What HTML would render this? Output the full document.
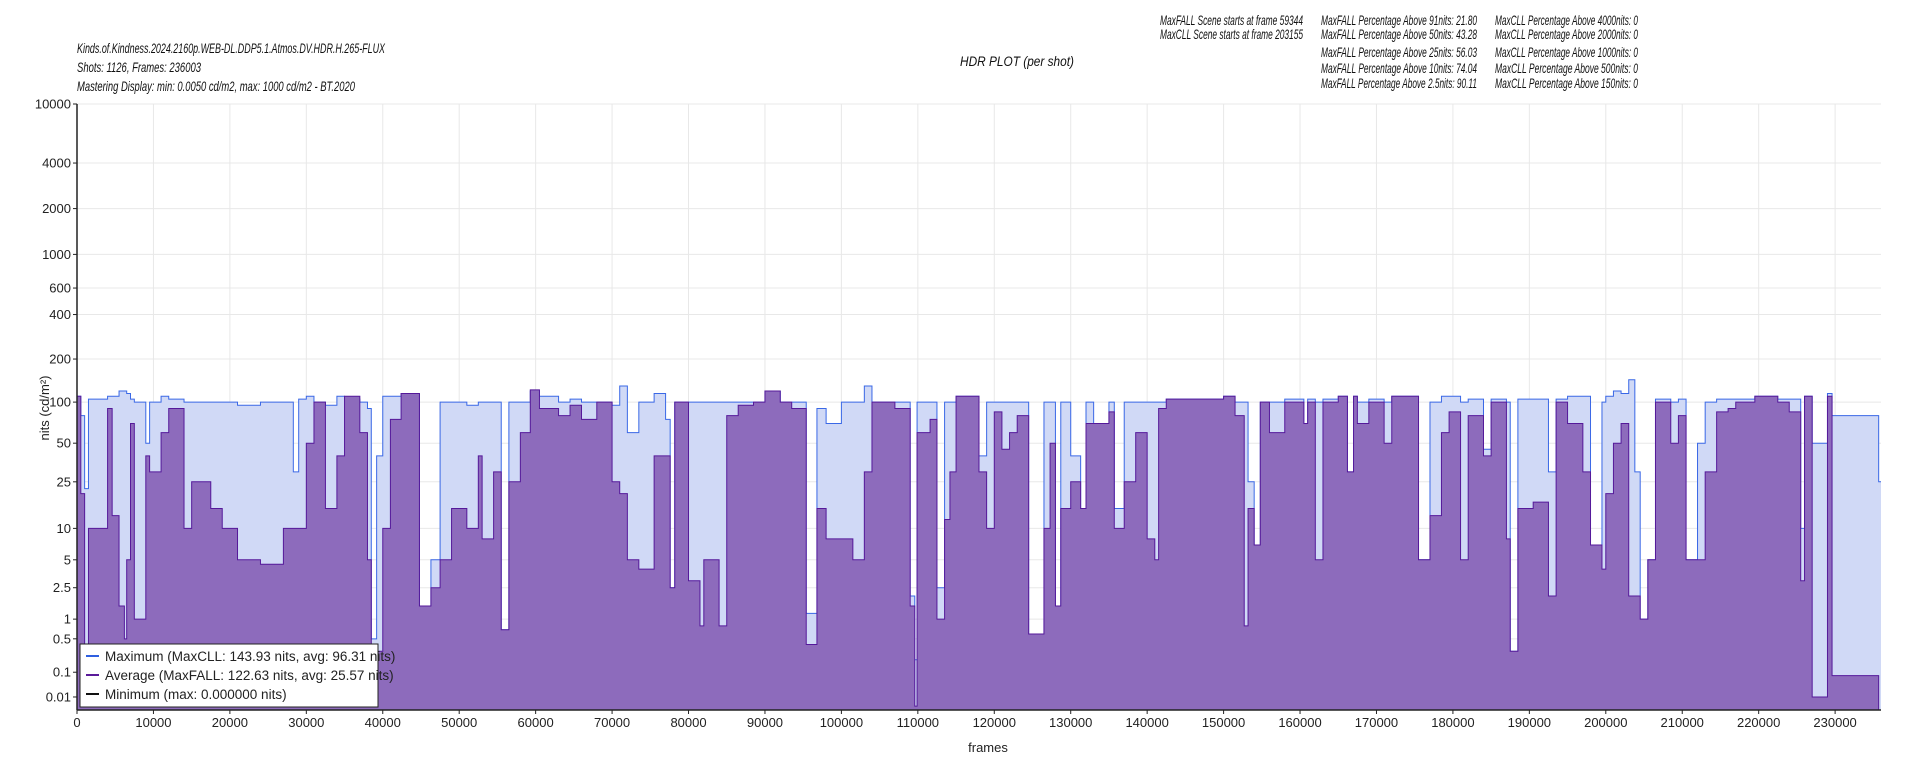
<!DOCTYPE html>
<html><head><meta charset="utf-8">
<style>
html,body{margin:0;padding:0;background:#fff;width:1920px;height:768px;overflow:hidden}
svg text{font-family:"Liberation Sans",sans-serif}
.hd{font-style:italic;font-size:14px;fill:#111}
.tk{font-size:13px;fill:#222}
</style></head>
<body>
<svg id="chart" width="1920" height="768" viewBox="0 0 1920 768" xmlns="http://www.w3.org/2000/svg">
<g>
<text class="hd" x="77" y="53" textLength="308" lengthAdjust="spacingAndGlyphs">Kinds.of.Kindness.2024.2160p.WEB-DL.DDP5.1.Atmos.DV.HDR.H.265-FLUX</text>
<text class="hd" x="77" y="72" textLength="124" lengthAdjust="spacingAndGlyphs">Shots:  1126, Frames: 236003</text>
<text class="hd" x="77" y="91" textLength="278" lengthAdjust="spacingAndGlyphs">Mastering Display: min: 0.0050 cd/m2, max: 1000 cd/m2 - BT.2020</text>
</g>
<text class="hd" x="960" y="66" textLength="114" lengthAdjust="spacingAndGlyphs">HDR PLOT (per shot)</text>
<g>
<text class="hd" x="1160" y="25" textLength="143" lengthAdjust="spacingAndGlyphs">MaxFALL Scene starts at frame 59344</text>
<text class="hd" x="1160" y="39" textLength="143" lengthAdjust="spacingAndGlyphs">MaxCLL Scene starts at frame 203155</text>
<text class="hd" x="1321" y="25" textLength="156" lengthAdjust="spacingAndGlyphs">MaxFALL Percentage Above  91nits: 21.80</text>
<text class="hd" x="1321" y="39" textLength="156" lengthAdjust="spacingAndGlyphs">MaxFALL Percentage Above  50nits: 43.28</text>
<text class="hd" x="1321" y="57" textLength="156" lengthAdjust="spacingAndGlyphs">MaxFALL Percentage Above  25nits: 56.03</text>
<text class="hd" x="1321" y="73" textLength="156" lengthAdjust="spacingAndGlyphs">MaxFALL Percentage Above  10nits: 74.04</text>
<text class="hd" x="1321" y="88" textLength="156" lengthAdjust="spacingAndGlyphs">MaxFALL Percentage Above 2.5nits: 90.11</text>
<text class="hd" x="1495" y="25" textLength="143" lengthAdjust="spacingAndGlyphs">MaxCLL Percentage Above 4000nits: 0</text>
<text class="hd" x="1495" y="39" textLength="143" lengthAdjust="spacingAndGlyphs">MaxCLL Percentage Above 2000nits: 0</text>
<text class="hd" x="1495" y="57" textLength="143" lengthAdjust="spacingAndGlyphs">MaxCLL Percentage Above 1000nits: 0</text>
<text class="hd" x="1495" y="73" textLength="143" lengthAdjust="spacingAndGlyphs">MaxCLL Percentage Above   500nits: 0</text>
<text class="hd" x="1495" y="88" textLength="143" lengthAdjust="spacingAndGlyphs">MaxCLL Percentage Above   150nits: 0</text>
</g>
<g id="grid"></g>
<g id="series"></g>
<g id="axes"></g>
<text class="tk" x="988" y="752" text-anchor="middle">frames</text>
<text class="tk" transform="translate(49,408) rotate(-90)" text-anchor="middle">nits (cd/m²)</text>
<g>
<rect x="80" y="644" width="298" height="63" fill="#fff" stroke="#222" stroke-width="1"/>
<line x1="86" y1="656" x2="99" y2="656" stroke="#2f5fe0" stroke-width="2"/>
<text x="105" y="661" font-size="13.5" fill="#222">Maximum (MaxCLL: 143.93 nits, avg: 96.31 nits)</text>
<line x1="86" y1="675" x2="99" y2="675" stroke="#5a1a9a" stroke-width="2"/>
<text x="105" y="680" font-size="13.5" fill="#222">Average (MaxFALL: 122.63 nits, avg: 25.57 nits)</text>
<line x1="86" y1="694" x2="99" y2="694" stroke="#111" stroke-width="2"/>
<text x="105" y="699" font-size="13.5" fill="#222">Minimum (max: 0.000000 nits)</text>
</g>
</svg>
<script>
const shotStart=[0,500,1000,1500,4000,4600,5500,6200,6500,7000,7500,9000,9500,11000,12000,14000,15000,17500,19000,21000,24000,27000,28300,29000,30000,31000,32500,34000,35000,37000,38000,38500,39200,40000,41000,42400,44800,46300,47500,49000,51000,52500,53000,54500,55500,56500,58000,59300,60500,63000,64500,66000,68000,70000,71000,72000,73500,75500,77000,77600,78200,80000,81500,82000,84000,85000,86500,88500,90000,92000,93500,95400,96800,98000,100000,101500,103000,104000,107000,109000,109600,109900,111600,112500,113500,114200,115000,118000,119000,120000,121000,122000,123000,124500,126500,127300,128000,128700,130000,131300,132000,133000,135000,135700,137000,138500,140000,141000,141500,142500,150000,151500,152700,153200,154000,154800,156000,158000,160500,161000,162000,163000,165000,166200,167000,167500,169000,171000,172000,175500,177000,178500,179500,181000,182000,184000,185000,187000,187500,188500,190500,192500,193500,195000,197000,198000,199500,200000,201000,202000,203000,203800,204500,205500,206500,208500,209500,210500,212000,213000,214500,216000,217000,219500,222500,224000,225500,226000,227000,229000,229600,235700];
const maxVals=[110,80,22,105,110,110,120,120,115,105,100,50,100,110,105,100,100,100,100,95,100,100,30,105,110,100,95,110,105,100,90,0.5,40,110,110,115,1.5,5,100,100,95,100,100,100,0.7,100,100,120,110,100,105,100,100,95,130,60,100,115,75,2.5,100,100,100,100,100,100,100,100,120,100,100,1.2,90,70,100,100,130,100,100,2,0.2,100,100,2.5,100,100,110,40,100,100,100,100,100,0.6,100,100,1.5,100,40,15,100,70,100,15,100,100,100,100,100,105,110,100,100,25,7,100,100,105,70,105,100,105,110,30,110,100,105,100,110,5,100,110,110,100,105,45,105,100,0.3,105,105,30,105,110,110,7,100,110,120,115,143.9,30,1,5,105,100,105,5,50,100,105,105,105,110,105,105,10,110,50,115,80,25];
const avgVals=[110,20,0.3,10,90,13,1.5,0.5,5,70,1,40,30,60,90,10,25,15,10,5,4.5,10,10,10,50,100,15,40,110,60,5,0.4,0.3,10,75,115,1.5,2.5,5,15,10,40,8,30,0.7,25,60,122,90,80,95,75,100,25,20,5,4,40,40,2.5,100,3,0.8,5,0.8,80,95,100,120,100,90,0.4,15,8,8,5,30,100,90,1.5,0.001,60,75,1,12,30,110,30,10,85,45,60,80,0.6,10,50,1.5,15,25,15,70,70,85,10,25,60,8,5,90,105,110,80,0.8,15,7,100,60,100,70,100,5,100,110,30,110,70,100,50,110,5,13,60,85,5,80,40,100,8,0.3,15,17,2,100,70,30,7,4,20,50,70,2,2,1,5,100,50,80,5,5,30,85,90,100,110,100,85,3,110,0.01,110,0.08,0];
const totalFrames=236003;
const xTicks=[0,10000,20000,30000,40000,50000,60000,70000,80000,90000,100000,110000,120000,130000,140000,150000,160000,170000,180000,190000,200000,210000,220000,230000];
const yTicks=[0.01,0.1,0.5,1,2.5,5,10,25,50,100,200,400,600,1000,2000,4000,10000];
const yTickLabels=["0.01","0.1","0.5","1","2.5","5","10","25","50","100","200","400","600","1000","2000","4000","10000"];

(function(){
const NS="http://www.w3.org/2000/svg";
const X0=77,X1=1881,Y0=710,Y1=104;
function pq(n){const m1=0.1593017578125,m2=78.84375,c1=0.8359375,c2=18.8515625,c3=18.6875;const y=Math.pow(Math.max(n,0)/10000,m1);return Math.pow((c1+c2*y)/(1+c3*y),m2);}
function xs(f){return X0+(f/totalFrames)*(X1-X0);}
function ys(n){return Y0-pq(n)*(Y0-Y1);}
function mk(tag,attrs,parent){const e=document.createElementNS(NS,tag);for(const k in attrs)e.setAttribute(k,attrs[k]);parent.appendChild(e);return e;}
const grid=document.getElementById('grid'),axes=document.getElementById('axes'),series=document.getElementById('series');
xTicks.forEach((t)=>{
 const l=mk('line',{x1:xs(t),x2:xs(t),y1:Y1,y2:Y0,stroke:'#e8e8e8','stroke-width':1},grid);
 
 
 const tk=mk('line',{x1:xs(t),x2:xs(t),y1:Y0,y2:Y0+4,stroke:'#222'},axes);
 
 
 const tx=mk('text',{x:xs(t),y:Y0+17,'text-anchor':'middle','class':'tk'},axes);
 tx.textContent=String(t);
 
 
});
yTicks.forEach((t,i)=>{
 const l=mk('line',{x1:X0,x2:X1,y1:ys(t),y2:ys(t),stroke:'#e8e8e8','stroke-width':1},grid);
 
 
 const tk=mk('line',{x1:X0-4,x2:X0,y1:ys(t),y2:ys(t),stroke:'#222'},axes);
 
 
 const tx=mk('text',{x:X0-6,y:ys(t)+4.5,'text-anchor':'end','class':'tk'},axes);
 tx.textContent=yTickLabels[i];
 
 
});
function stepPath(vals){
 let d='';
 const n=Math.min(shotStart.length,vals.length);
 for(let i=0;i<n;i++){
  const xa=xs(shotStart[i]),xb=xs(i+1<shotStart.length?shotStart[i+1]:totalFrames),y=ys(vals[i]);
  d+=(i===0?'M':'L')+xa.toFixed(2)+','+y.toFixed(2)+'L'+xb.toFixed(2)+','+y.toFixed(2);
 }
 return d;
}
const dMax=stepPath(maxVals),dAvg=stepPath(avgVals);
const fMax=mk('path',{d:'M'+X0+','+Y0+dMax.replace(/^M/,'L')+'L'+X1+','+Y0+'Z',fill:'#d0d9f6',stroke:'none'},series);


const lMax=mk('path',{d:dMax,fill:'none',stroke:'#3a68e6','stroke-width':1},series);


const fAvg=mk('path',{d:'M'+X0+','+Y0+dAvg.replace(/^M/,'L')+'L'+X1+','+Y0+'Z',fill:'#8d6bbc',stroke:'none'},series);


const lAvg=mk('path',{d:dAvg,fill:'none',stroke:'#55199a','stroke-width':1},series);


const topLine=mk('line',{x1:X0,x2:X1,y1:Y1,y2:Y1,stroke:'#e8e8e8'},axes);


const ax=mk('line',{x1:X0,x2:X0,y1:Y1,y2:Y0,stroke:'#222','stroke-width':1.5},axes);


const bx=mk('line',{x1:X0,x2:X1,y1:Y0,y2:Y0,stroke:'#222','stroke-width':1.5},axes);


})();
</script>
</body></html>
